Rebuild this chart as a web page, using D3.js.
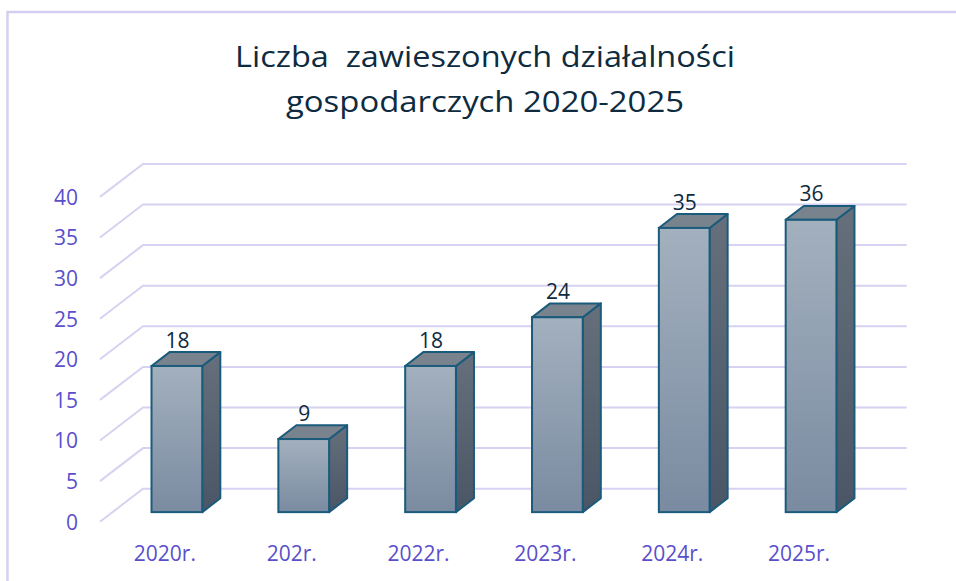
<!DOCTYPE html>
<html>
<head>
<meta charset="utf-8">
<script src="https://cdn.jsdelivr.net/npm/d3@7/dist/d3.min.js"></script>
<style>
  html, body { margin: 0; padding: 0; background: #ffffff; }
  svg { display: block; }
</style>
</head>
<body>
<svg id="chart" width="956" height="581"></svg>
<script>
// ---- data ----
const categories = ["2020r.", "202r.", "2022r.", "2023r.", "2024r.", "2025r."];
const values = [18, 9, 18, 24, 35, 36];
const yTicks = [0, 5, 10, 15, 20, 25, 30, 35, 40];
const titleLines = ["Liczba  zawieszonych działalności", "gospodarczych 2020-2025"];

// ---- layout ----
const W = 956, H = 581;
const svg = d3.select("#chart");
const FONT = "'Open Sans', 'Noto Sans', sans-serif";

const depthX = 43, depthY = 33;          // 3D depth of the plot
const barDepthFrac = 0.42;               // bar depth relative to plot depth
const bdx = depthX * barDepthFrac, bdy = depthY * barDepthFrac;
const offX = depthX * (1 - barDepthFrac) / 2, offY = depthY * (1 - barDepthFrac) / 2;

const x = d3.scaleBand().domain(categories).range([101, 862]).paddingInner(0).paddingOuter(0);
const barW = x.bandwidth() * 0.40;
const y = d3.scaleLinear().domain([0, 40]).range([521.7, 196.9]);

// defs: gradients
const defs = svg.append("defs");
const gFront = defs.append("linearGradient").attr("id", "gFront").attr("x1", 0).attr("y1", 0).attr("x2", 0).attr("y2", 1);
gFront.append("stop").attr("offset", "0%").attr("stop-color", "#a3b0be");
gFront.append("stop").attr("offset", "100%").attr("stop-color", "#7a8ba1");
const gSide = defs.append("linearGradient").attr("id", "gSide").attr("x1", 0).attr("y1", 0).attr("x2", 0).attr("y2", 1);
gSide.append("stop").attr("offset", "0%").attr("stop-color", "#66707c");
gSide.append("stop").attr("offset", "100%").attr("stop-color", "#4a5666");

// border (open to right and bottom)
svg.append("rect")
  .attr("x", 7.5).attr("y", 12).attr("width", 1200).attr("height", 1200)
  .attr("fill", "none").attr("stroke", "#d3cff0").attr("stroke-width", 2.5);

// title
svg.append("g").selectAll("text").data(titleLines).join("text")
  .attr("x", 485)
  .attr("y", (d, i) => 66.7 + i * 45)
  .attr("text-anchor", "middle")
  .attr("font-family", FONT)
  .attr("font-size", 30)
  .attr("fill", "#0e2b40")
  .attr("textLength", (d, i) => i === 0 ? 500 : 398)
  .attr("lengthAdjust", "spacingAndGlyphs")
  .style("white-space", "pre")
  .text(d => d);

// gridlines (diagonal wall + back wall)
const grid = svg.append("g").attr("stroke", "#d6d2f1").attr("stroke-width", 2).attr("fill", "none");
const frontL = 100, backR = 906.7;
yTicks.forEach(t => {
  const fy = y(t);
  grid.append("path")
    .attr("d", `M${frontL},${fy}L${frontL + depthX},${fy - depthY}L${backR},${fy - depthY}`);
});

// y labels
svg.append("g").selectAll("text").data(yTicks).join("text")
  .attr("x", 78)
  .attr("y", d => y(d) + 7.8)
  .attr("text-anchor", "end")
  .attr("font-family", FONT)
  .attr("font-size", 21)
  .attr("fill", "#5a4fcb")
  .text(d => d);

// bars
const bars = svg.append("g").selectAll("g").data(categories.map((c, i) => ({c, v: values[i]}))).join("g");
bars.each(function(d) {
  const g = d3.select(this);
  const x0 = x(d.c) + x.bandwidth() / 2 - barW / 2 + offX;
  const x1 = x0 + barW;
  const yb = y(0) - offY;
  const yt = y(d.v) - offY;
  const stroke = "#1a5b7c", sw = 2;
  // side face
  g.append("path")
    .attr("d", `M${x1},${yt}L${x1 + bdx},${yt - bdy}L${x1 + bdx},${yb - bdy}L${x1},${yb}Z`)
    .attr("fill", "url(#gSide)").attr("stroke", stroke).attr("stroke-width", sw).attr("stroke-linejoin", "round");
  // top face
  g.append("path")
    .attr("d", `M${x0},${yt}L${x0 + bdx},${yt - bdy}L${x1 + bdx},${yt - bdy}L${x1},${yt}Z`)
    .attr("fill", "#78838e").attr("stroke", stroke).attr("stroke-width", sw).attr("stroke-linejoin", "round");
  // front face
  g.append("rect")
    .attr("x", x0).attr("y", yt).attr("width", barW).attr("height", yb - yt)
    .attr("fill", "url(#gFront)").attr("stroke", stroke).attr("stroke-width", sw);
  // value label
  g.append("text")
    .attr("x", (x0 + x1) / 2 + 0.5)
    .attr("y", yt - bdy - 4.5)
    .attr("text-anchor", "middle")
    .attr("font-family", FONT)
    .attr("font-size", 21)
    .attr("fill", "#0e2b40")
    .text(d.v);
});

// x labels
svg.append("g").selectAll("text").data(categories).join("text")
  .attr("x", d => x(d) + x.bandwidth() / 2 + 0.5)
  .attr("y", 560.7)
  .attr("text-anchor", "middle")
  .attr("font-family", FONT)
  .attr("font-size", 21)
  .attr("fill", "#5a4fcb")
  .text(d => d);
</script>
</body>
</html>
